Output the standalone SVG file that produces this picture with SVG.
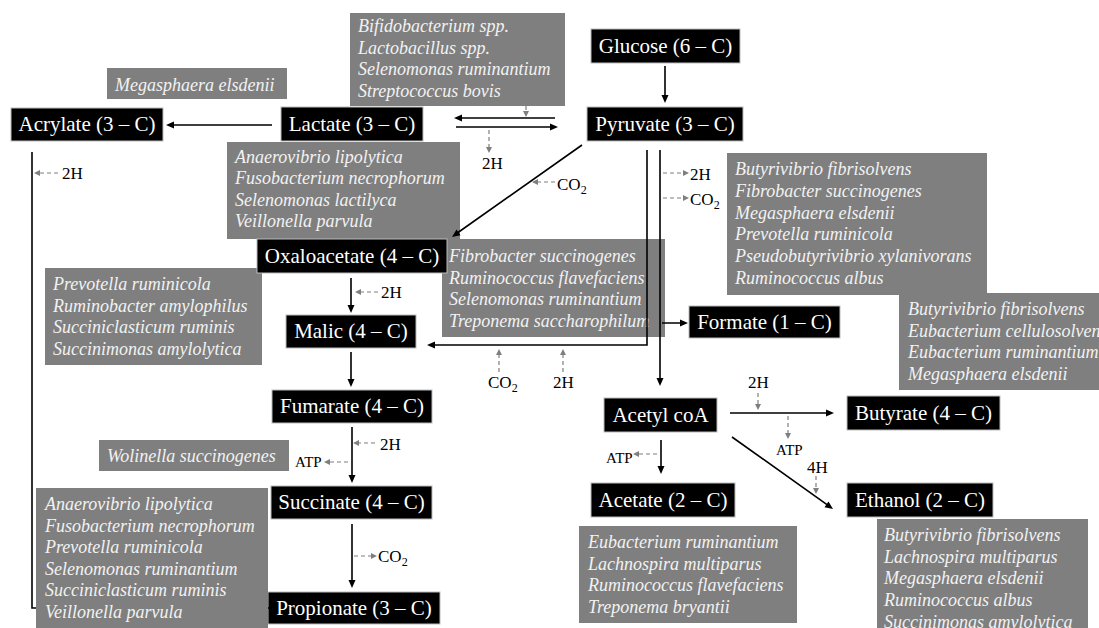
<svg xmlns="http://www.w3.org/2000/svg" width="1099" height="628" viewBox="0 0 1099 628" font-family="Liberation Serif,serif">
<style>text{font-family:'Liberation Serif',serif}.n{fill:#000;stroke:#bbb}.t{fill:#fff;font-size:21px;text-anchor:middle}.g{fill:#7f7f7f}.i{fill:#f2f2f2;font-size:18px;font-style:italic}.l{font-size:17px}.a{font-size:15px}.b{font-size:12px}</style>
<rect width="1099" height="628" fill="#fff"/>
<g id="b1"><rect class="g" x="107" y="68" width="180" height="31"/><text class="i" x="115" y="91">Megasphaera elsdenii</text></g>
<g id="b2"><rect class="g" x="350" y="13" width="215" height="93"/><text class="i" x="358" y="32">Bifidobacterium spp.<tspan x="358" dy="21.5">Lactobacillus spp.</tspan><tspan x="358" dy="21.5">Selenomonas ruminantium</tspan><tspan x="358" dy="21.5">Streptococcus bovis</tspan></text></g>
<g id="b3"><rect class="g" x="227" y="142" width="233" height="97"/><text class="i" x="235" y="163">Anaerovibrio lipolytica<tspan x="235" dy="21.3">Fusobacterium necrophorum</tspan><tspan x="235" dy="21.3">Selenomonas lactilyca</tspan><tspan x="235" dy="21.3">Veillonella parvula</tspan></text></g>
<g id="b4"><rect class="g" x="727" y="153" width="260" height="142"/><text class="i" x="735" y="175">Butyrivibrio fibrisolvens<tspan x="735" dy="21.8">Fibrobacter succinogenes</tspan><tspan x="735" dy="21.8">Megasphaera elsdenii</tspan><tspan x="735" dy="21.8">Prevotella ruminicola</tspan><tspan x="735" dy="21.8">Pseudobutyrivibrio xylanivorans</tspan><tspan x="735" dy="21.8">Ruminococcus albus</tspan></text></g>
<g id="b5"><rect class="g" x="899" y="293" width="200" height="97"/><text class="i" x="908" y="315">Butyrivibrio fibrisolvens<tspan x="908" dy="21.7">Eubacterium cellulosolvens</tspan><tspan x="908" dy="21.7">Eubacterium ruminantium</tspan><tspan x="908" dy="21.7">Megasphaera elsdenii</tspan></text></g>
<g id="b6"><rect class="g" x="45" y="268" width="217" height="97"/><text class="i" x="53" y="290">Prevotella ruminicola<tspan x="53" dy="21.7">Ruminobacter amylophilus</tspan><tspan x="53" dy="21.7">Succiniclasticum ruminis</tspan><tspan x="53" dy="21.7">Succinimonas amylolytica</tspan></text></g>
<g id="b7"><rect class="g" x="442" y="239" width="223" height="98"/><text class="i" x="449" y="262">Fibrobacter succinogenes<tspan x="449" dy="21.7">Ruminococcus flavefaciens</tspan><tspan x="449" dy="21.7">Selenomonas ruminantium</tspan><tspan x="449" dy="21.7">Treponema saccharophilum</tspan></text></g>
<g id="b8"><rect class="g" x="99" y="440" width="190" height="31"/><text class="i" x="107" y="462">Wolinella succinogenes</text></g>
<g id="b9"><rect class="g" x="579" y="526" width="218" height="97"/><text class="i" x="588" y="548">Eubacterium ruminantium<tspan x="588" dy="21.7">Lachnospira multiparus</tspan><tspan x="588" dy="21.7">Ruminococcus flavefaciens</tspan><tspan x="588" dy="21.7">Treponema bryantii</tspan></text></g>
<g id="b10"><rect class="g" x="877" y="519" width="211" height="115"/><text class="i" x="884" y="541">Butyrivibrio fibrisolvens<tspan x="884" dy="21.7">Lachnospira multiparus</tspan><tspan x="884" dy="21.7">Megasphaera elsdenii</tspan><tspan x="884" dy="21.7">Ruminococcus albus</tspan><tspan x="884" dy="21.7">Succinimonas amylolytica</tspan></text></g>
<g id="glucose"><rect class="n" x="591" y="29" width="149" height="34"/><text class="t" x="665.5" y="53">Glucose (6 – C)</text></g>
<g id="pyruvate"><rect class="n" x="587" y="107" width="156" height="34"/><text class="t" x="665" y="131">Pyruvate (3 – C)</text></g>
<g id="acrylate"><rect class="n" x="11" y="108" width="152" height="33"/><text class="t" x="87" y="131">Acrylate (3 – C)</text></g>
<g id="lactate"><rect class="n" x="281" y="107" width="142" height="34"/><text class="t" x="352" y="131">Lactate (3 – C)</text></g>
<g id="oxaloacetate"><rect class="n" x="257" y="239" width="190" height="34"/><text class="t" x="352" y="263">Oxaloacetate (4 – C)</text></g>
<g id="malic"><rect class="n" x="286" y="315" width="130" height="33"/><text class="t" x="351" y="338">Malic (4 – C)</text></g>
<g id="fumarate"><rect class="n" x="272" y="390" width="160" height="33"/><text class="t" x="352" y="413">Fumarate (4 – C)</text></g>
<g id="succinate"><rect class="n" x="271" y="486" width="161" height="33"/><text class="t" x="351.5" y="509">Succinate (4 – C)</text></g>
<g id="propionate"><rect class="n" x="268" y="592" width="172" height="32"/><text class="t" x="354" y="615">Propionate (3 – C)</text></g>
<g id="formate"><rect class="n" x="689" y="306" width="151" height="32"/><text class="t" x="764.5" y="329">Formate (1 – C)</text></g>
<g id="acetylcoa"><rect class="n" x="604" y="398" width="113" height="34"/><text class="t" x="660.5" y="422">Acetyl coA</text></g>
<g id="butyrate"><rect class="n" x="847" y="396" width="153" height="34"/><text class="t" x="923.5" y="420">Butyrate (4 – C)</text></g>
<g id="acetate"><rect class="n" x="591" y="483" width="144" height="34"/><text class="t" x="663" y="507">Acetate (2 – C)</text></g>
<g id="ethanol"><rect class="n" x="847" y="483" width="146" height="34"/><text class="t" x="920" y="507">Ethanol (2 – C)</text></g>
<g id="connectors">
<path fill="none" stroke="#000" stroke-width="1.6" d="M665,66V96M272,125H173M555,118H461M456,127H551M582,145L458,232.5M647,150V345H434M660,150V379M662,323H681M351,278V306M351,352V380M352,427V476M352,524V581M730,413H827M732,437L827,504.6M661,440V467M32,152V608H270"/>
<path d="M665,103l-3.5,-8h7zM166,125l8,-3.5v7zM454,118l8,-3.5v7zM558,127l-8,-3.5v7zM452,237L460.5,235.3L456.5,229.5zM427,345l8,-3.5v7zM660,386l-3.5,-8h7zM688,323l-8,-3.5v7zM351,313l-3.5,-8h7zM351,387l-3.5,-8h7zM352,483l-3.5,-8h7zM352,588l-3.5,-8h7zM834,413l-8,-3.5v7zM833,509L824.5,507.2L828.5,501.5zM661,474l-3.5,-8h7z"/>
<path fill="none" stroke="#7f7f7f" stroke-width="1.2" stroke-dasharray="4 3" d="M58,173H40M526,106V111M489,130V147M555,182H538M663,173H683M663,198H683M378,292H361M499,372V355M563,372V355M758,393V404M788,416V433M816,476V488M657,454H639M375,443H359M348,462H330M354,556H371"/>
<path fill="#7f7f7f" d="M34,173l6,-3v6zM526,117l-3,-6h6zM489,153l-3,-6h6zM532,182l6,-3v6zM689,173l-6,-3v6zM689,198l-6,-3v6zM355,292l6,-3v6zM499,349l-3,6h6zM563,349l-3,6h6zM758,410l-3,-6h6zM788,439l-3,-6h6zM816,494l-3,-6h6zM633,454l6,-3v6zM353,443l6,-3v6zM324,462l6,-3v6zM377,556l-6,-3v6z"/>
</g>
<g id="labels">
<text class="l" x="62" y="179">2H</text><text class="l" x="482" y="169">2H</text><text class="l" x="557" y="190">CO<tspan class="b" dy="4">2</tspan></text><text class="l" x="690" y="180">2H</text><text class="l" x="690" y="205">CO<tspan class="b" dy="4">2</tspan></text><text class="l" x="381" y="298">2H</text><text class="l" x="488" y="388">CO<tspan class="b" dy="4">2</tspan></text><text class="l" x="553" y="388">2H</text><text class="l" x="748" y="388">2H</text><text class="a" x="776" y="455">ATP</text><text class="l" x="807" y="473">4H</text><text class="a" x="606" y="463">ATP</text><text class="l" x="380" y="450">2H</text><text class="a" x="295" y="467">ATP</text><text class="l" x="378" y="562">CO<tspan class="b" dy="4">2</tspan></text>
</g>
<g id="b11"><rect class="g" x="36" y="488" width="232" height="140"/><text class="i" x="45" y="510">Anaerovibrio lipolytica<tspan x="45" dy="21.6">Fusobacterium necrophorum</tspan><tspan x="45" dy="21.6">Prevotella ruminicola</tspan><tspan x="45" dy="21.6">Selenomonas ruminantium</tspan><tspan x="45" dy="21.6">Succiniclasticum ruminis</tspan><tspan x="45" dy="21.6">Veillonella parvula</tspan></text></g>
</svg>
